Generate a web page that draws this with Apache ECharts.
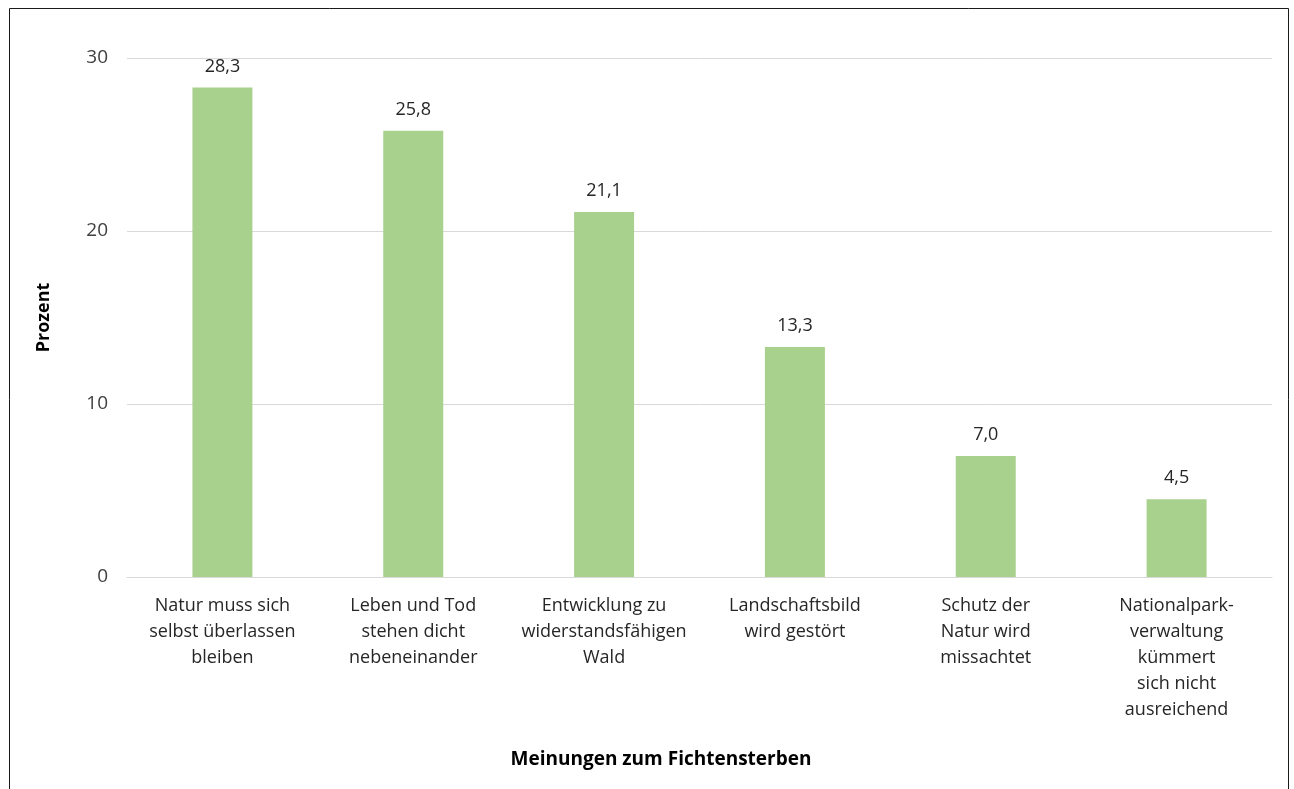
<!DOCTYPE html>
<html>
<head>
<meta charset="utf-8">
<script src="https://cdn.jsdelivr.net/npm/echarts@6/dist/echarts.min.js"></script>
<style>
html,body{margin:0;padding:0;background:#fff;}
#c{width:1294px;height:789px;}
</style>
</head>
<body>
<div id="c"></div>
<script>
const categories = [
  "Natur muss sich\nselbst überlassen\nbleiben",
  "Leben und Tod\nstehen dicht\nnebeneinander",
  "Entwicklung zu\nwiderstandsfähigen\nWald",
  "Landschaftsbild\nwird gestört",
  "Schutz der\nNatur wird\nmissachtet",
  "Nationalpark-\nverwaltung\nkümmert\nsich nicht\nausreichend"
];
const values = [28.3, 25.8, 21.1, 13.3, 7.0, 4.5];
const yTicks = [0, 10, 20, 30];
const yTitle = "Prozent";
const xTitle = "Meinungen zum Fichtensterben";

const FONT = "'Open Sans', Lato, sans-serif";
const chart = echarts.init(document.getElementById('c'), null, {renderer: 'canvas'});
chart.setOption({
  animation: false,
  backgroundColor: '#fff',
  grid: {left: 127, right: 22, top: 58, bottom: 212, containLabel: false},
  graphic: [{
    type: 'rect', silent: true,
    shape: {x: 9.5, y: 8.5, width: 1279, height: 800},
    style: {fill: 'none', stroke: '#1a1a1a', lineWidth: 1}
  }, {
    type: 'text', x: 661, y: 760,
    style: {text: xTitle, font: "bold 19px " + FONT, fill: '#000', align: 'center', verticalAlign: 'middle'}
  }],
  xAxis: {
    type: 'category',
    data: categories,
    axisTick: {show: false},
    axisLine: {lineStyle: {color: '#d9d9d9', width: 1}},
    axisLabel: {color: '#262626', fontSize: 18, fontFamily: FONT, lineHeight: 26, margin: 16, interval: 0}
  },
  yAxis: {
    type: 'value',
    min: 0, max: 30, interval: 10,
    name: yTitle,
    nameLocation: 'middle',
    nameGap: 74,
    nameRotate: 90,
    nameTextStyle: {color: '#000', fontSize: 18, fontWeight: 'bold', fontFamily: FONT},
    axisLine: {show: false},
    axisTick: {show: false},
    splitLine: {lineStyle: {color: '#d9d9d9', width: 1}},
    axisLabel: {color: '#404040', fontSize: 19, fontFamily: FONT, margin: 19,
      formatter: v => yTicks.includes(v) ? String(v) : ''}
  },
  series: [{
    type: 'bar',
    data: values,
    barWidth: 60,
    itemStyle: {color: '#a9d18e'},
    label: {
      show: true, position: 'top', distance: 12,
      color: '#262626', fontSize: 18, fontFamily: FONT,
      formatter: p => p.value.toFixed(1).replace('.', ',')
    }
  }]
});
</script>
</body>
</html>
